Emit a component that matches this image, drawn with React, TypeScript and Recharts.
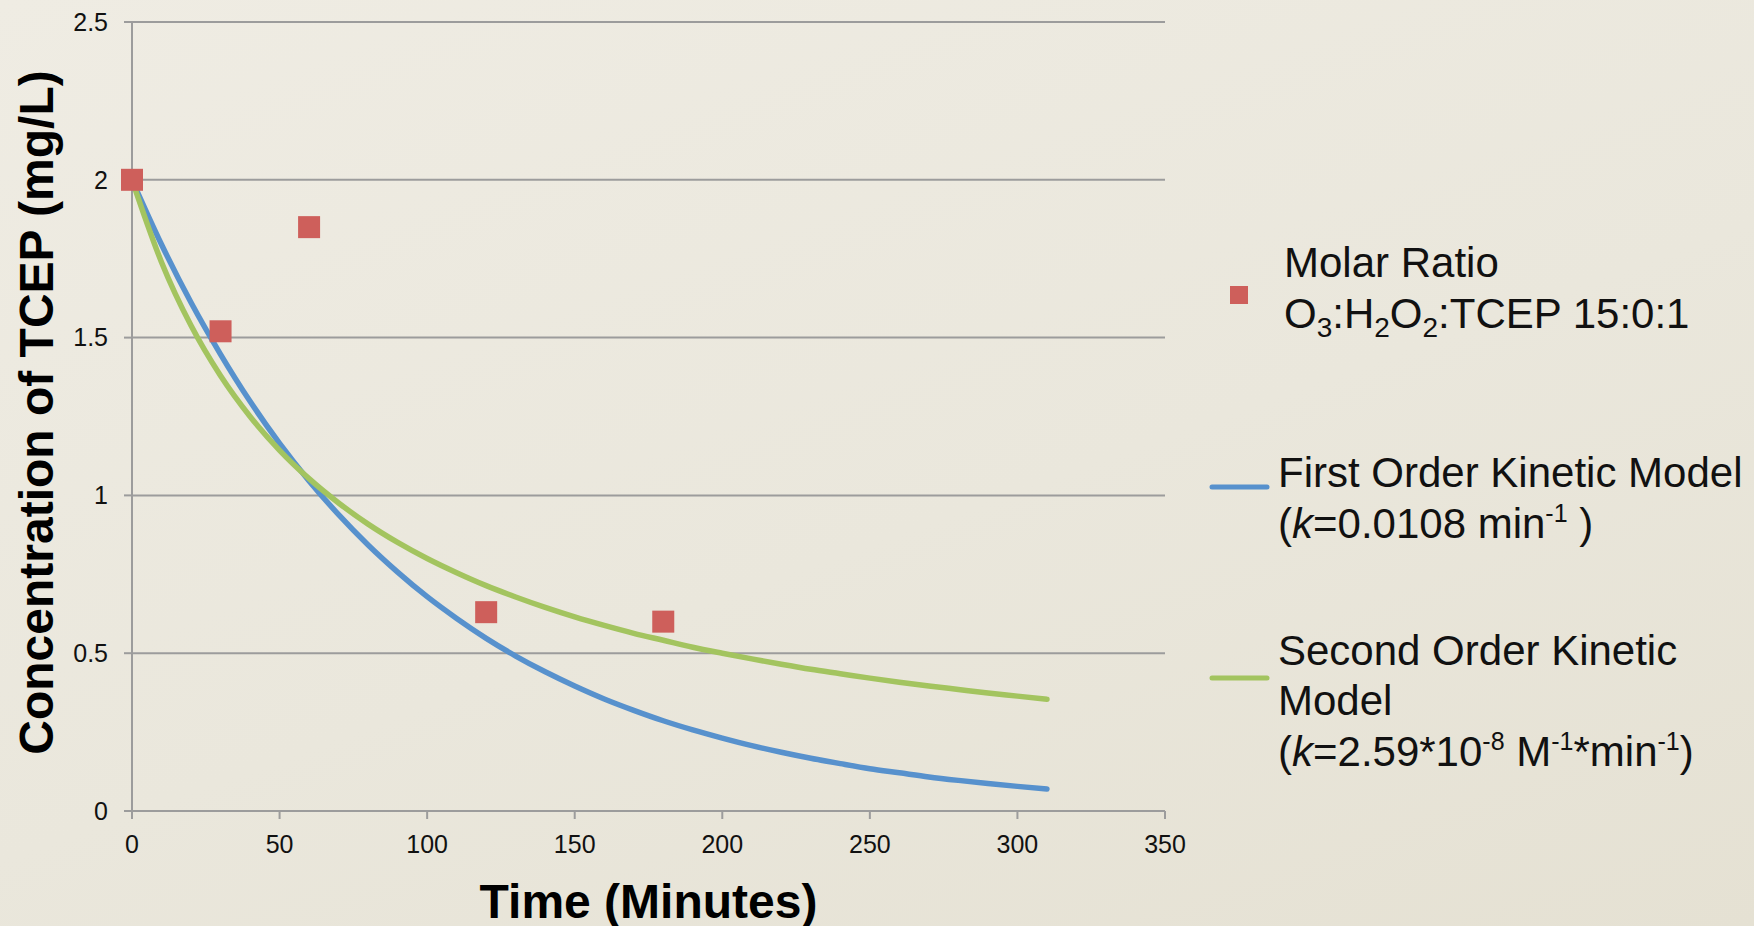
import {
  CartesianGrid,
  ComposedChart,
  Legend,
  Line,
  Scatter,
  XAxis,
  YAxis,
} from "recharts";

// TCEP measured at 15:0:1 molar ratio, and the two fitted kinetic curves.
const SAMPLE_TIME = [0, 30, 60, 120, 180];
const SAMPLE_CONC = [2.0, 1.52, 1.85, 0.63, 0.6];

const MODEL_TIME = [
  0, 10, 20, 30, 40, 50, 60, 70, 80, 90, 100, 110, 120, 130, 140, 150, 160,
  170, 180, 190, 200, 210, 220, 230, 240, 250, 260, 270, 280, 290, 300, 310,
];
const FIRST_ORDER = [
  2.0, 1.795, 1.611, 1.447, 1.298, 1.165, 1.046, 0.939, 0.843, 0.757, 0.679,
  0.61, 0.547, 0.491, 0.441, 0.396, 0.355, 0.319, 0.286, 0.257, 0.231, 0.207,
  0.186, 0.167, 0.15, 0.134, 0.121, 0.108, 0.097, 0.087, 0.078, 0.07,
];
const SECOND_ORDER = [
  2.0, 1.739, 1.538, 1.379, 1.25, 1.143, 1.053, 0.976, 0.909, 0.851, 0.8,
  0.755, 0.714, 0.678, 0.645, 0.615, 0.588, 0.563, 0.541, 0.519, 0.5, 0.482,
  0.465, 0.449, 0.435, 0.421, 0.408, 0.396, 0.385, 0.374, 0.364, 0.354,
];

const X_TICKS = [0, 50, 100, 150, 200, 250, 300, 350];
const Y_TICKS = [0, 0.5, 1, 1.5, 2, 2.5];

const NAME_DATA = "Molar Ratio O3:H2O2:TCEP 15:0:1";
const NAME_FIRST = "First Order Kinetic Model";
const NAME_SECOND = "Second Order Kinetic Model";

const FONT = '"Liberation Sans", Arial, sans-serif';
const RED = "#CE5F5B";
const BLUE = "#5791CD";
const GREEN = "#A3C45F";
const GRID = "#9C9C9C";

const samples = SAMPLE_TIME.map((t, i) => ({ t, c: SAMPLE_CONC[i] }));
const firstOrder = MODEL_TIME.map((t, i) => ({ t, c: FIRST_ORDER[i] }));
const secondOrder = MODEL_TIME.map((t, i) => ({ t, c: SECOND_ORDER[i] }));

const TICK = { fill: "#111", fontSize: 25, fontFamily: FONT } as const;

function Square(props: any) {
  const { cx, cy, fill } = props;
  if (cx == null || cy == null) return null;
  return <rect x={cx - 11} y={cy - 11} width={22} height={22} fill={fill} />;
}

function XTitle({ viewBox }: any) {
  if (!viewBox) return null;
  return (
    <text
      x={viewBox.x + viewBox.width / 2}
      y={viewBox.y + viewBox.height - 8}
      textAnchor="middle"
      fontFamily={FONT}
      fontWeight="bold"
      fontSize={48}
      fill="#000"
    >
      Time (Minutes)
    </text>
  );
}

function YTitle({ viewBox }: any) {
  if (!viewBox) return null;
  const y = viewBox.y + viewBox.height / 2 - 4;
  return (
    <text
      x={53}
      y={y}
      transform={`rotate(-90, 53, ${y})`}
      textAnchor="middle"
      fontFamily={FONT}
      fontWeight="bold"
      fontSize={48}
      fill="#000"
    >
      Concentration of TCEP (mg/L)
    </text>
  );
}

/** Legend drawn by hand: the labels need sub- and superscripts. */
function Legenda({ payload }: any) {
  const cor = (nome: string, reserva: string) =>
    payload?.find((p: any) => p.value === nome)?.color ?? reserva;
  return (
    <svg width={564} height={580} style={{ display: "block", overflow: "visible" }}>
      <g fontFamily={FONT} fontSize={42} fill="#111">
        <rect x={40} y={66} width={18} height={18} fill={cor(NAME_DATA, RED)} />
        <text x={94} y={57}>Molar Ratio</text>
        <text x={94} y={108}>
          O<tspan fontSize={28} dy={9}>3</tspan>
          <tspan dy={-9}>:H</tspan>
          <tspan fontSize={28} dy={9}>2</tspan>
          <tspan dy={-9}>O</tspan>
          <tspan fontSize={28} dy={9}>2</tspan>
          <tspan dy={-9}>:TCEP 15:0:1</tspan>
        </text>

        <line
          x1={22}
          x2={77}
          y1={267}
          y2={267}
          stroke={cor(NAME_FIRST, BLUE)}
          strokeWidth={5}
          strokeLinecap="round"
        />
        <text x={88} y={267}>First Order Kinetic Model</text>
        <text x={88} y={318}>
          (<tspan fontStyle="italic">k</tspan>
          <tspan>=0.0108 min</tspan>
          <tspan fontSize={25} dy={-16}>-1</tspan>
          <tspan dy={16}>{" )"}</tspan>
        </text>

        <line
          x1={22}
          x2={77}
          y1={458}
          y2={458}
          stroke={cor(NAME_SECOND, GREEN)}
          strokeWidth={5}
          strokeLinecap="round"
        />
        <text x={88} y={445}>Second Order Kinetic</text>
        <text x={88} y={495}>Model</text>
        <text x={88} y={546}>
          (<tspan fontStyle="italic">k</tspan>
          <tspan>=2.59*10</tspan>
          <tspan fontSize={25} dy={-16}>-8</tspan>
          <tspan dy={16}>{" M"}</tspan>
          <tspan fontSize={25} dy={-16}>-1</tspan>
          <tspan dy={16}>*min</tspan>
          <tspan fontSize={25} dy={-16}>-1</tspan>
          <tspan dy={16}>)</tspan>
        </text>
      </g>
    </svg>
  );
}

export default function App() {
  return (
    <div
      style={{
        position: "fixed",
        left: 0,
        top: 0,
        width: 1754,
        height: 926,
        background: "linear-gradient(160deg, #EFECE3 0%, #EAE7DC 55%, #E5E1D3 100%)",
      }}
    >
      <ComposedChart
        width={1754}
        height={926}
        margin={{ top: 22, right: 589, bottom: 0, left: 0 }}
      >
        <CartesianGrid vertical={false} stroke={GRID} strokeWidth={2} />
        <XAxis
          type="number"
          dataKey="t"
          domain={[0, 350]}
          ticks={X_TICKS}
          height={115}
          stroke={GRID}
          strokeWidth={2}
          tickSize={8}
          tickMargin={16}
          tick={TICK}
          label={<XTitle />}
        />
        <YAxis
          type="number"
          dataKey="c"
          domain={[0, 2.5]}
          ticks={Y_TICKS}
          width={132}
          stroke={GRID}
          strokeWidth={2}
          tickSize={8}
          tickMargin={16}
          tick={TICK}
          label={<YTitle />}
        />
        <Line
          data={firstOrder}
          dataKey="c"
          name={NAME_FIRST}
          type="monotone"
          stroke={BLUE}
          strokeWidth={5.5}
          strokeLinecap="round"
          dot={false}
          isAnimationActive={false}
        />
        <Line
          data={secondOrder}
          dataKey="c"
          name={NAME_SECOND}
          type="monotone"
          stroke={GREEN}
          strokeWidth={5.5}
          strokeLinecap="round"
          dot={false}
          isAnimationActive={false}
        />
        <Scatter
          data={samples}
          dataKey="c"
          name={NAME_DATA}
          fill={RED}
          shape={<Square />}
          isAnimationActive={false}
        />
        <Legend
          layout="vertical"
          align="center"
          verticalAlign="middle"
          wrapperStyle={{ left: 1190, top: 220, width: 564, height: 580 }}
          content={<Legenda />}
        />
      </ComposedChart>
    </div>
  );
}
